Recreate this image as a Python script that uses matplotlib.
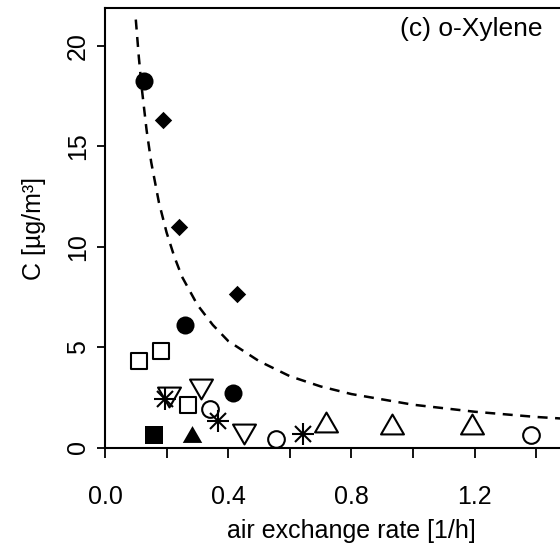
import matplotlib
matplotlib.use("Agg")
from matplotlib import pyplot as plt
from matplotlib.path import Path

plt.rcParams['font.family'] = ['Liberation Sans', 'DejaVu Sans']

# data (air exchange rate [1/h], C [ug/m3])
fcirc_x = [0.127, 0.260, 0.415]
fcirc_y = [18.24, 6.08, 2.71]
diam_x = [0.189, 0.240, 0.430]
diam_y = [16.30, 10.96, 7.63]
osq_x = [0.109, 0.181, 0.268]
osq_y = [4.32, 4.80, 2.10]
ast_x = [0.196, 0.368, 0.644]
ast_y = [2.40, 1.33, 0.66]
dtri_x = [0.207, 0.312, 0.451]
dtri_y = [2.53, 2.90, 0.67]
ocirc_x = [0.341, 0.554, 1.383]
ocirc_y = [1.90, 0.42, 0.62]
utri_x = [0.716, 0.933, 1.192]
utri_y = [1.27, 1.17, 1.17]
fsq_x = [0.160]
fsq_y = [0.62]
ftri_x = [0.281]
ftri_y = [0.67]

# dashed curve
curve_x = [0.10, 0.11, 0.12, 0.135, 0.15, 0.175, 0.20, 0.225, 0.25, 0.30, 0.35, 0.40,
           0.50, 0.60, 0.70, 0.80, 1.00, 1.20, 1.40, 1.60]
curve_y = [21.3, 19.4, 17.8, 15.8, 14.2, 12.2, 10.7, 9.5, 8.5, 7.1, 6.1, 5.3,
           4.3, 3.55, 3.04, 2.66, 2.13, 1.78, 1.52, 1.33]

xticks = [0.0, 0.2, 0.4, 0.6, 0.8, 1.0, 1.2, 1.4]
xticklabels = ['0.0', '', '0.4', '', '0.8', '', '1.2', '']
yticks = [0, 5, 10, 15, 20]


def shape(pts):
    # closed polygon marker
    return Path(pts + [pts[0]], closed=True)


sq = shape([(-1, -1), (1, -1), (1, 1), (-1, 1)])
dia = shape([(0, 1), (1, 0), (0, -1), (-1, 0)])
up = shape([(0, 0.866), (1, -0.866), (-1, -0.866)])
down = shape([(0, -0.866), (1, 0.866), (-1, 0.866)])

fig = plt.figure(figsize=(5.6, 5.55), dpi=100)
ax = fig.add_axes([105 / 560, 1 - 447.5 / 555, 0.880, 439.2 / 555])

ax.plot(curve_x, curve_y, color='k', lw=1.8, dashes=(4, 3))

mew = 1.5
ax.plot(fcirc_x, fcirc_y, ls='none', marker='o', ms=13, mfc='k', mec='k', mew=0)
ax.plot(diam_x, diam_y, ls='none', marker=dia, ms=12.5, mfc='k', mec='k', mew=0)
ax.plot(osq_x, osq_y, ls='none', marker=sq, ms=11.5, mfc='none', mec='k', mew=mew)
ax.plot(ast_x, ast_y, ls='none', marker='+', ms=16, mec='k', mew=mew)
ax.plot(ast_x, ast_y, ls='none', marker='x', ms=11, mec='k', mew=mew)
ax.plot(dtri_x, dtri_y, ls='none', marker=down, ms=16.5, mfc='none', mec='k', mew=mew)
ax.plot(ocirc_x, ocirc_y, ls='none', marker='o', ms=12, mfc='none', mec='k', mew=mew)
ax.plot(utri_x, utri_y, ls='none', marker=up, ms=16.5, mfc='none', mec='k', mew=mew)
ax.plot(fsq_x, fsq_y, ls='none', marker=sq, ms=12.5, mfc='k', mec='k', mew=0)
ax.plot(ftri_x, ftri_y, ls='none', marker=up, ms=14, mfc='k', mec='k', mew=0)

ax.set_xlim(0, 1.6)
ax.set_ylim(0, 21.86)
ax.set_xticks(xticks)
ax.set_xticklabels(xticklabels)
ax.set_yticks(yticks)
ax.set_yticklabels([str(v) for v in yticks], rotation=90, va='center')

for s in ax.spines.values():
    s.set_linewidth(1.5)
ax.tick_params(axis='x', direction='out', length=7, width=1.3, pad=20, labelsize=18)
ax.tick_params(axis='y', direction='out', length=6, width=1.3, pad=5, labelsize=18)

ax.set_xlabel('air exchange rate [1/h]', fontsize=18)
ax.xaxis.set_label_coords(351 / 560, 1 - 519 / 555, transform=fig.transFigure)
ax.set_ylabel('C [µg/m³]', fontsize=18)
ax.yaxis.set_label_coords(46 / 560, 1 - 228 / 555, transform=fig.transFigure)

fig.text(543 / 560, 1 - 29 / 555, '(c) o-Xylene', ha='right', va='center', fontsize=19)

fig.savefig('out.png', dpi=100)
